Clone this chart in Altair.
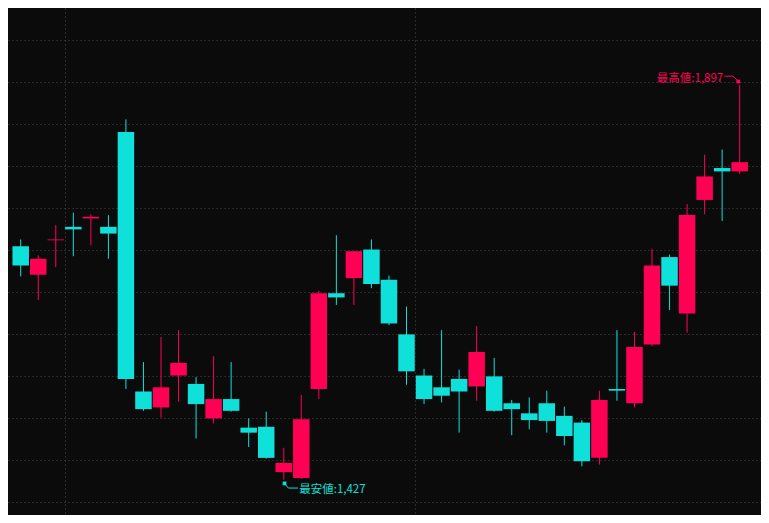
import altair as alt
import pandas as pd

# ---- data (daily candles, oldest -> newest) ----
opens  = [1705, 1671, 1712, 1728, 1738, 1728, 1841, 1532, 1513, 1551,
          1541, 1500, 1523, 1489, 1490, 1436, 1429, 1535, 1649, 1667,
          1701, 1665, 1600, 1551, 1537, 1547, 1538, 1550, 1518, 1506,
          1518, 1503, 1495, 1453, 1535, 1518, 1588, 1692, 1625, 1760,
          1798, 1794]
highs  = [1713, 1694, 1730, 1745, 1743, 1742, 1856, 1567, 1597, 1605,
          1549, 1574, 1567, 1500, 1508, 1465, 1528, 1652, 1718, 1699,
          1713, 1670, 1633, 1559, 1605, 1558, 1610, 1572, 1522, 1525,
          1533, 1514, 1498, 1533, 1605, 1603, 1702, 1695, 1755, 1814,
          1820, 1897]
lows   = [1669, 1641, 1680, 1693, 1706, 1690, 1535, 1509, 1501, 1520,
          1476, 1494, 1508, 1466, 1452, 1427, 1428, 1523, 1635, 1635,
          1655, 1611, 1540, 1517, 1519, 1483, 1521, 1508, 1480, 1487,
          1483, 1468, 1443, 1445, 1521, 1513, 1586, 1629, 1602, 1743,
          1735, 1791]
closes = [1682, 1690, 1713, 1725, 1740, 1720, 1547, 1511, 1537, 1566,
          1517, 1523, 1509, 1483, 1453, 1447, 1499, 1649, 1644, 1699,
          1660, 1613, 1556, 1523, 1527, 1532, 1579, 1509, 1511, 1498,
          1497, 1479, 1449, 1522, 1533, 1585, 1682, 1658, 1742, 1788,
          1794, 1805]
grid_prices = [1400, 1450, 1500, 1550, 1600, 1650, 1700, 1750, 1800, 1850, 1900, 1950]
period_breaks = [2.5, 22.5]

UP = "#ff0055"
DOWN = "#10e0da"
BG = "#0b0b0b"
GRID = "#4a4a4a"

df = pd.DataFrame({
    "i": list(range(len(opens))),
    "open": opens, "high": highs, "low": lows, "close": closes,
})
df["dir"] = ["up" if c >= o else "down" for o, c in zip(opens, closes)]

x_scale = alt.Scale(domain=[-0.44, 41.93], nice=False, zero=False)
y_scale = alt.Scale(domain=[1385, 1988.5], nice=False, zero=False)
color = alt.Color("dir:N", scale=alt.Scale(domain=["up", "down"], range=[UP, DOWN]), legend=None)

x_axis = alt.Axis(values=period_breaks, grid=True, labels=False, ticks=False, domain=False,
                  title=None, gridDash=[1, 3], gridColor=GRID, gridWidth=1)
y_axis = alt.Axis(values=grid_prices, grid=True, labels=False, ticks=False, domain=False,
                  title=None, gridDash=[1, 3], gridColor=GRID, gridWidth=1)

base = alt.Chart(df)
wicks = base.mark_rule(strokeWidth=1).encode(
    x=alt.X("i:Q", scale=x_scale, axis=x_axis),
    y=alt.Y("low:Q", scale=y_scale, axis=y_axis),
    y2="high:Q",
    color=color,
)
bodies = base.mark_bar(size=16.5).encode(
    x=alt.X("i:Q", scale=x_scale),
    y=alt.Y("open:Q", scale=y_scale),
    y2="close:Q",
    color=color,
)

# ---- high / low annotations, placed relative to the extreme candles ----
PX = 1 / 18.15   # index units per reference pixel
PY = 1.1538      # price units per reference pixel
hi_i = int(df["high"].idxmax()); hi_v = highs[hi_i]
lo_i = int(df["low"].idxmin()); lo_v = lows[lo_i]

hi_txt = pd.DataFrame({"x": [hi_i - 17 * PX], "y": [hi_v + 6 * PY], "t": [f"最高値:{hi_v:,}"]})
lo_txt = pd.DataFrame({"x": [lo_i + 16 * PX], "y": [lo_v - 10.5 * PY], "t": [f"最安値:{lo_v:,}"]})

hi_seg = pd.DataFrame({
    "x": [hi_i - 16 * PX, hi_i - 7 * PX],
    "y": [hi_v + 9 * PY, hi_v + 9 * PY],
    "x2": [hi_i - 7 * PX, hi_i - 1.5 * PX],
    "y2": [hi_v + 9 * PY, hi_v + 3.8 * PY],
})
lo_seg = pd.DataFrame({
    "x": [lo_i + 0.5 * PX, lo_i + 4.8 * PX],
    "y": [lo_v - 3.8 * PY, lo_v - 8.6 * PY],
    "x2": [lo_i + 4.8 * PX, lo_i + 14.7 * PX],
    "y2": [lo_v - 8.6 * PY, lo_v - 8.6 * PY],
})
hi_head = pd.DataFrame({"x": [hi_i - 1.5 * PX], "y": [hi_v + 3.5 * PY]})
lo_head = pd.DataFrame({"x": [lo_i + 0.8 * PX], "y": [lo_v - 3.8 * PY]})


def seg_layer(d, col):
    return alt.Chart(d).mark_rule(strokeWidth=1, color=col).encode(
        x=alt.X("x:Q", scale=x_scale), x2="x2:Q",
        y=alt.Y("y:Q", scale=y_scale), y2="y2:Q",
    )


def head_layer(d, col):
    return alt.Chart(d).mark_square(size=14, color=col, opacity=1, filled=True).encode(
        x=alt.X("x:Q", scale=x_scale), y=alt.Y("y:Q", scale=y_scale),
    )


def text_layer(d, col, align):
    return alt.Chart(d).mark_text(align=align, baseline="middle", fontSize=11.5,
                                  font="Noto Sans CJK JP", color=col).encode(
        x=alt.X("x:Q", scale=x_scale), y=alt.Y("y:Q", scale=y_scale), text="t:N",
    )


chart = alt.layer(
    wicks, bodies,
    seg_layer(hi_seg, UP), head_layer(hi_head, UP), text_layer(hi_txt, UP, "right"),
    seg_layer(lo_seg, DOWN), head_layer(lo_head, DOWN), text_layer(lo_txt, DOWN, "left"),
).properties(
    width=753, height=507, padding=0,
    autosize=alt.AutoSizeParams(type="fit", contains="padding"),
    background=BG,
).configure_view(strokeWidth=0, fill=BG)

chart.save("out.html", embed_options={"renderer": "svg", "actions": False})
